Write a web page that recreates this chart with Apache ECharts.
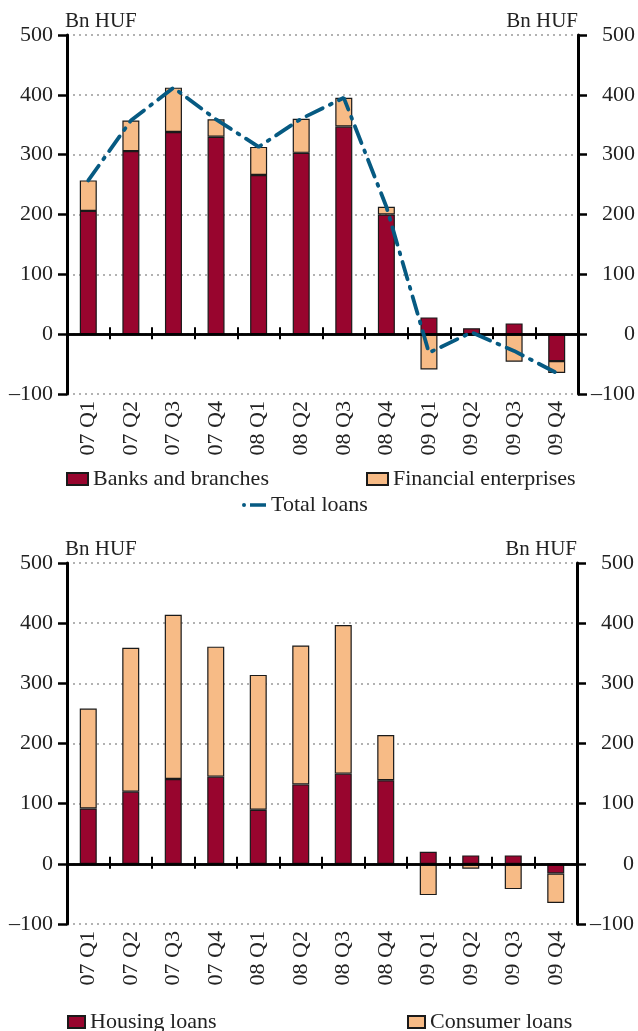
<!DOCTYPE html>
<html><head><meta charset="utf-8">
<script src="https://cdn.jsdelivr.net/npm/echarts@6/dist/echarts.min.js"></script>
<style>html,body{margin:0;padding:0;background:#fff}#c{width:638px;height:1031px}</style>
</head><body><div id="c"></div>
<script>
const categories = ['07 Q1','07 Q2','07 Q3','07 Q4','08 Q1','08 Q2','08 Q3','08 Q4','09 Q1','09 Q2','09 Q3','09 Q4'];
const banks      = [206, 306, 338, 330, 266, 303, 347, 200,  28,  10,  18, -45];
const financial  = [ 51,  51,  74,  29,  47,  57,  48,  13, -59,  -2, -46, -20];
const totalLoans = [257, 357, 412, 359, 313, 360, 395, 213, -31,   3, -28, -65];
const housing    = [ 92, 120, 141, 145,  90, 132, 150, 139,  20,  14,  14, -16];
const consumer   = [166, 239, 273, 216, 224, 231, 247,  75, -52,  -8, -42, -49];
const unitLabel = 'Bn HUF';

const FONT = 'Liberation Serif';
const TXT = '#222';
const DARK = '#98052e';
const LIGHT = '#f7bb86';
const LINEC = '#065a82';
const fmt = v => String(v).replace('-', '\u2013');

function xAxes(g) {
  return [
    {gridIndex:g, type:'category', data:categories, position:'bottom',
     axisLine:{show:false, onZero:false}, axisTick:{show:false}, splitLine:{show:false},
     axisLabel:{rotate:90, margin:7, fontFamily:FONT, fontSize:22, color:TXT}},
    {gridIndex:g, type:'category', data:categories,
     axisLine:{show:true, onZero:true, lineStyle:{color:'#000', width:2.5}},
     axisTick:{show:true, length:7, lineStyle:{color:'#000', width:2}},
     axisLabel:{show:false}, splitLine:{show:false}, z:5},
    {gridIndex:g, type:'category', data:categories,
     axisLine:{show:true, onZero:true, lineStyle:{color:'#000', width:2.5}},
     axisTick:{show:true, inside:true, length:5, lineStyle:{color:'#000', width:2}},
     axisLabel:{show:false}, splitLine:{show:false}, z:5}
  ];
}
function yAxes(g) {
  const base = {gridIndex:g, type:'value', min:-100, max:500, interval:100,
    axisLine:{show:true, lineStyle:{color:'#000', width:3}},
    axisTick:{show:true, length:9, lineStyle:{color:'#000', width:2.5}},
    name:unitLabel, nameLocation:'end', nameGap:3};
  return [
    Object.assign({}, base, {position:'left',
      axisLabel:{margin:14, fontFamily:FONT, fontSize:22, color:TXT, formatter:fmt},
      splitLine:{show:true, lineStyle:{type:[2,4], color:'#999', width:1.5}},
      nameTextStyle:{align:'left', fontFamily:FONT, fontSize:21, color:TXT, padding:[0,0,0,-2]}}),
    Object.assign({}, base, {position:'right',
      axisLabel:{margin:57, align:'right', fontFamily:FONT, fontSize:22, color:TXT, formatter:fmt},
      splitLine:{show:false},
      nameTextStyle:{align:'right', fontFamily:FONT, fontSize:21, color:TXT}})
  ];
}
function bar(name, data, color, xi, yi, stack) {
  return {name, type:'bar', data, stack, xAxisIndex:xi, yAxisIndex:yi, barWidth:17,
    itemStyle:{color, borderColor:'#1a1a1a', borderWidth:1.2}};
}
const legendBase = {icon:'rect', itemWidth:21, itemHeight:12, itemGap:10, itemTextGap:6, padding:0,
  textStyle:{fontFamily:FONT, fontSize:22, color:TXT}};
const lineIcon = 'path://M0,3a2,2 0 1,0 4,0a2,2 0 1,0 -4,0ZM8,1.2H24V4.8H8Z';

const option = {
  animation:false,
  backgroundColor:'#fff',
  grid:[
    {left:67, right:59, top:35, bottom:637},
    {left:67, right:61, top:563, bottom:107}
  ],
  xAxis:[...xAxes(0), ...xAxes(1)],
  yAxis:[...yAxes(0), ...yAxes(1)],
  legend:[
    Object.assign({}, legendBase, {data:['Banks and branches'], left:66, top:468}),
    Object.assign({}, legendBase, {data:['Financial enterprises'], left:366, top:468}),
    Object.assign({}, legendBase, {data:['Total loans'], left:242, top:494, icon:lineIcon,
      itemWidth:24, itemHeight:6, itemTextGap:8}),
    Object.assign({}, legendBase, {data:['Housing loans'], left:67, top:1011, itemWidth:17}),
    Object.assign({}, legendBase, {data:['Consumer loans'], left:407, top:1011, itemWidth:17})
  ],
  series:[
    bar('Banks and branches', banks, DARK, 0, 0, 'a'),
    bar('Financial enterprises', financial, LIGHT, 0, 0, 'a'),
    {name:'Total loans', type:'line', data:totalLoans, xAxisIndex:0, yAxisIndex:0,
     symbol:'none', z:10, lineStyle:{color:LINEC, width:3.8, type:[18,8,2,8], cap:'round'},
     itemStyle:{color:LINEC}},
    bar('Housing loans', housing, DARK, 3, 2, 'b'),
    bar('Consumer loans', consumer, LIGHT, 3, 2, 'b')
  ]
};
const chart = echarts.init(document.getElementById('c'), null, {renderer:'canvas'});
chart.setOption(option);
</script>
</body></html>
